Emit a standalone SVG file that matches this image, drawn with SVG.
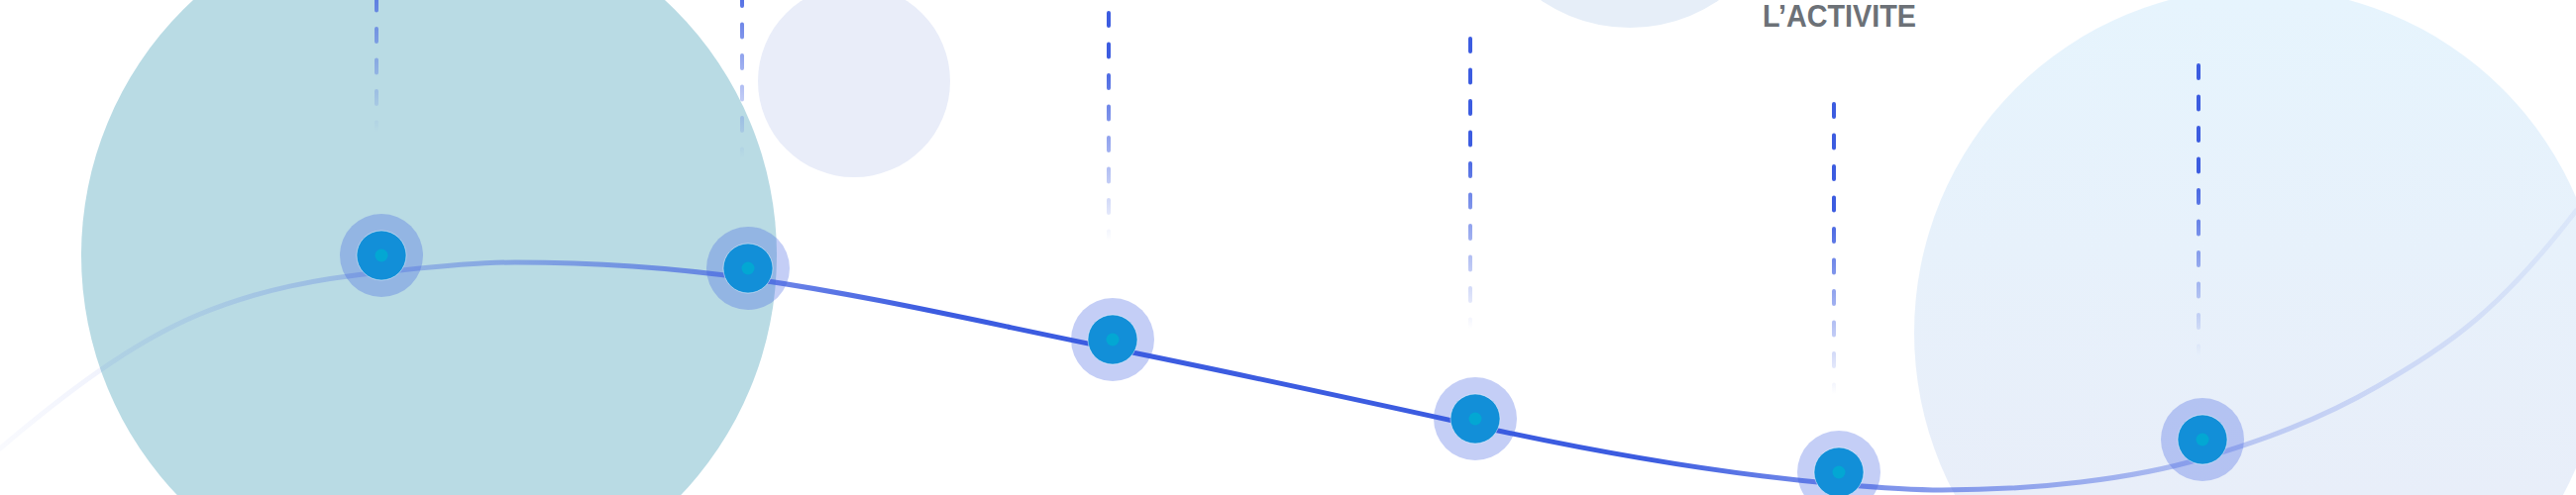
<svg xmlns="http://www.w3.org/2000/svg" width="2600" height="500" viewBox="0 0 2600 500">
  <defs>
    <linearGradient id="curveGrad" gradientUnits="userSpaceOnUse" x1="0" y1="0" x2="2600" y2="0">
      <stop offset="0" stop-color="#3c5ce0" stop-opacity="0.03"/>
      <stop offset="0.08" stop-color="#3c5ce0" stop-opacity="0.12"/>
      <stop offset="0.19" stop-color="#3c5ce0" stop-opacity="0.4"/>
      <stop offset="0.29" stop-color="#3c5ce0" stop-opacity="0.7"/>
      <stop offset="0.36" stop-color="#3c5ce0" stop-opacity="1"/>
      <stop offset="0.64" stop-color="#3c5ce0" stop-opacity="1"/>
      <stop offset="0.69" stop-color="#3c5ce0" stop-opacity="0.78"/>
      <stop offset="0.754" stop-color="#3c5ce0" stop-opacity="0.6"/>
      <stop offset="0.808" stop-color="#3c5ce0" stop-opacity="0.45"/>
      <stop offset="0.855" stop-color="#3c5ce0" stop-opacity="0.33"/>
      <stop offset="0.885" stop-color="#3c5ce0" stop-opacity="0.24"/>
      <stop offset="0.92" stop-color="#3c5ce0" stop-opacity="0.17"/>
      <stop offset="1" stop-color="#3c5ce0" stop-opacity="0.07"/>
    </linearGradient>
    <linearGradient id="dashGrad" gradientUnits="userSpaceOnUse" x1="0" y1="0" x2="0" y2="295">
      <stop offset="0" stop-color="#3c5ce0" stop-opacity="1"/>
      <stop offset="0.37" stop-color="#3c5ce0" stop-opacity="1"/>
      <stop offset="1" stop-color="#3c5ce0" stop-opacity="0"/>
    </linearGradient>
    <linearGradient id="rightCircleGrad" gradientUnits="userSpaceOnUse" x1="0" y1="0" x2="0" y2="500">
      <stop offset="0" stop-color="#e6f4fd"/>
      <stop offset="1" stop-color="#e8eef9"/>
    </linearGradient>
    <style>
      .halo { fill: #3d5ce0; fill-opacity: 0.3; }
      .core { fill: #128fd8; stroke: #ffffff; stroke-opacity: 0.45; stroke-width: 1; }
      .dot { fill: #03a7d3; }
      .guide { fill: none; stroke: url(#dashGrad); stroke-width: 4; stroke-linecap: round; stroke-dasharray: 13 18.5; }
      .title { font-family: "Liberation Sans", Arial, sans-serif; font-weight: bold; font-size: 31px; fill: #6c7177; }
    </style>
  </defs>

  <rect x="0" y="0" width="2600" height="500" fill="#ffffff"/>

  <g id="background">
    <circle cx="433" cy="258" r="351" fill="#b9dbe4"/>
    <circle cx="862" cy="82" r="97" fill="#e9edf9"/>
    <circle cx="1645" cy="-131" r="159" fill="#e6eef8"/>
    <circle cx="2280" cy="336" r="348" fill="url(#rightCircleGrad)"/>
  </g>

  <g id="connectors">
    <path fill="none" stroke="url(#curveGrad)" stroke-width="5" stroke-linecap="round"
      d="M0,453 C66.7,396.3 133.3,346 200,318 C261.7,292.1 323.3,281.2 385,275 C430,270.5 475,265 520,265 C598,265 676,270.1 754,281 C877,298.2 1000,327.4 1123,352 C1245,376.4 1367,403.2 1489,430 C1611,456.8 1733,478.2 1855,489 C1890,492 1925,495 1960,495 C2006.7,495 2053.3,492.6 2100,487 C2141,482.1 2182,475.3 2223,463 C2282,445.3 2341,424.2 2400,390 C2433.3,370.7 2466.7,350.3 2500,322 C2533.3,293.7 2566.7,256.3 2600,213"/>
  </g>

  <g id="guides">
    <path class="guide" transform="translate(380,-162)" d="M0,2 V295"/>
    <path class="guide" transform="translate(749,-135)" d="M0,2 V295"/>
    <path class="guide" transform="translate(1119,-52)" d="M0,2 V295"/>
    <path class="guide" transform="translate(1484,37)" d="M0,2 V295"/>
    <path class="guide" transform="translate(1851,103)" d="M0,2 V295"/>
    <path class="guide" transform="translate(2219,64)" d="M0,2 V295"/>
  </g>

  <g id="node1">
    <circle class="halo" cx="385" cy="258" r="42"/>
    <circle class="core" cx="385" cy="258" r="25"/>
    <circle class="dot" cx="385" cy="258" r="6.5"/>
  </g>
  <g id="node2">
    <circle class="halo" cx="755" cy="271" r="42"/>
    <circle class="core" cx="755" cy="271" r="25"/>
    <circle class="dot" cx="755" cy="271" r="6.5"/>
  </g>
  <g id="node3">
    <circle class="halo" cx="1123" cy="343" r="42"/>
    <circle class="core" cx="1123" cy="343" r="25"/>
    <circle class="dot" cx="1123" cy="343" r="6.5"/>
  </g>
  <g id="node4">
    <circle class="halo" cx="1489" cy="423" r="42"/>
    <circle class="core" cx="1489" cy="423" r="25"/>
    <circle class="dot" cx="1489" cy="423" r="6.5"/>
  </g>
  <g id="node5">
    <circle class="halo" cx="1856" cy="477" r="42"/>
    <circle class="core" cx="1856" cy="477" r="25"/>
    <circle class="dot" cx="1856" cy="477" r="6.5"/>
  </g>
  <g id="node6">
    <circle class="halo" cx="2223" cy="444" r="42"/>
    <circle class="core" cx="2223" cy="444" r="25"/>
    <circle class="dot" cx="2223" cy="444" r="6.5"/>
  </g>

  <g id="title">
    <text class="title" x="1779" y="27" textLength="155" lengthAdjust="spacingAndGlyphs">L’ACTIVITE</text>
  </g>
</svg>
